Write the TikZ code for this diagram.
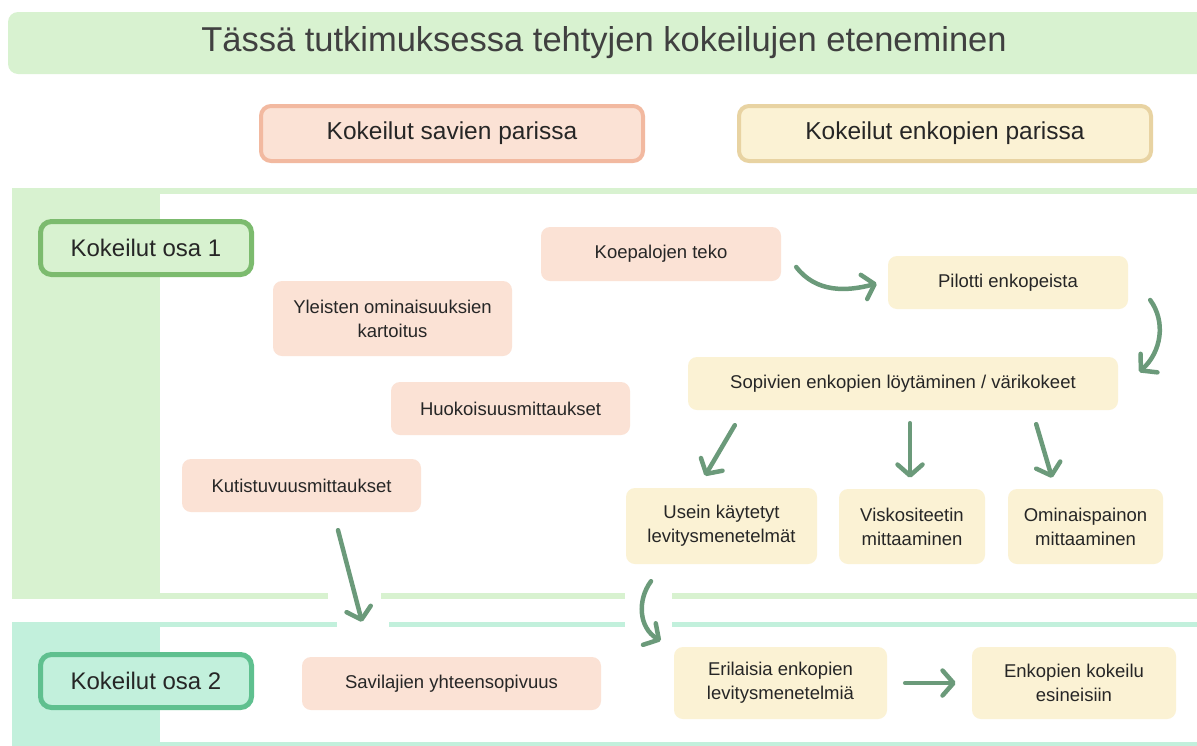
\documentclass[tikz,border=0pt]{standalone}
\usepackage{fontspec}
\setmainfont{Liberation Sans}
\usetikzlibrary{arrows.meta,calc}
\definecolor{pgreen}{HTML}{D8F2D0}
\definecolor{pmint}{HTML}{C2F0DC}
\definecolor{bgreen}{HTML}{7CBB6E}
\definecolor{bmint}{HTML}{5FC08F}
\definecolor{peach}{HTML}{FBE2D5}
\definecolor{peachb}{HTML}{F2B9A0}
\definecolor{cream}{HTML}{FBF2D4}
\definecolor{creamb}{HTML}{E8D3A2}
\definecolor{arrc}{HTML}{6B9A7A}
\definecolor{txt}{HTML}{262626}
\definecolor{ttxt}{HTML}{404040}
\tikzset{
  box/.style={rounded corners=9pt, inner sep=0pt, align=center, text=txt,
    font=\fontsize{18.5}{24}\selectfont},
  clay/.style={box, fill=peach},
  glaze/.style={box, fill=cream},
  header/.style={box, line width=4pt, rounded corners=10pt, minimum height=55pt,
    font=\fontsize{24.5}{28}\selectfont},
  part/.style={box, line width=5pt, rounded corners=11pt, minimum width=211pt,
    minimum height=53pt, font=\fontsize{24}{28}\selectfont},
  arr/.style={draw=arrc, line width=4.5pt, line cap=round,
    -{Straight Barb[length=11pt, width=25pt, line cap=round, line join=round]}},
}
\begin{document}
\begin{tikzpicture}[x=1pt,y=-1pt]
\useasboundingbox (0,0) rectangle (1197,745);
\clip (0,0) rectangle (1197,745);
% title bar
\fill[pgreen, rounded corners=10pt] (8,12) rectangle (1220,74);
\node[text=ttxt, font=\fontsize{34.5}{40}\selectfont] (title) at (604,43) {Tässä tutkimuksessa tehtyjen kokeilujen eteneminen};
% headers
\node[header, draw=peachb, fill=peach, minimum width=382pt] (hclay) at (452,133.5) {Kokeilut savien parissa};
\node[header, draw=creamb, fill=cream, minimum width=412pt] (hglaze) at (945,133.5) {Kokeilut enkopien parissa};
% panels
\fill[pgreen] (12,188) rectangle (1220,599);
\fill[white] (160,194) rectangle (1220,593);
\fill[pmint] (12,622) rectangle (1220,760);
\fill[white] (160,627) rectangle (1220,742);
% gaps in the band lines
\fill[white] (328,589) rectangle (381,603);
\fill[white] (337,618) rectangle (389,631);
\fill[white] (625,589) rectangle (672,631);
% part labels
\node[part, draw=bgreen, fill=pgreen] (osa1) at (146,248) {Kokeilut osa 1};
\node[part, draw=bmint, fill=pmint] (osa2) at (146,681) {Kokeilut osa 2};
% clay nodes
\node[clay, minimum width=240pt, minimum height=54pt] (koe) at (661,254) {Koepalojen teko};
\node[clay, minimum width=239pt, minimum height=75pt] (yleis) at (392.5,318.5) {Yleisten ominaisuuksien\\kartoitus};
\node[clay, minimum width=239pt, minimum height=53pt] (huok) at (510.5,408.5) {Huokoisuusmittaukset};
\node[clay, minimum width=239pt, minimum height=53pt] (kutis) at (301.5,485.5) {Kutistuvuusmittaukset};
\node[clay, minimum width=299pt, minimum height=53pt] (savi) at (451.5,683.5) {Savilajien yhteensopivuus};
% glaze nodes
\node[glaze, minimum width=240pt, minimum height=53pt] (pilotti) at (1008,282.5) {Pilotti enkopeista};
\node[glaze, minimum width=430pt, minimum height=53pt] (sopiv) at (903,383.5) {Sopivien enkopien löytäminen / värikokeet};
\node[glaze, minimum width=191pt, minimum height=76pt] (usein) at (721.5,526) {Usein käytetyt\\levitysmenetelmät};
\node[glaze, minimum width=146pt, minimum height=75pt] (visk) at (912,526.5) {Viskositeetin\\mittaaminen};
\node[glaze, minimum width=155pt, minimum height=75pt] (omin) at (1085.5,526.5) {Ominaispainon\\mittaaminen};
\node[glaze, minimum width=213pt, minimum height=72pt] (eril) at (780.5,683) {Erilaisia enkopien\\levitysmenetelmiä};
\node[glaze, minimum width=204pt, minimum height=72pt] (enkok) at (1074,683) {Enkopien kokeilu\\esineisiin};
% connectors
\draw[arr] ($(koe.east)+(15,13)$) .. controls +(20,26) and +(-30,8) .. ($(pilotti.west)+(-11,1)$);
\draw[arr] ($(pilotti.east)+(22,17.5)$) .. controls +(16,22) and +(22,-20) .. ($(sopiv.east)+(21,-11.5)$);
\draw[arr] ($(sopiv.south west)+(47,15)$) -- ($(usein.north)+(-16.5,-12)$);
\draw[arr] ($(sopiv.south)+(7,13)$) -- ($(visk.north)+(-2,-11)$);
\draw[arr] ($(sopiv.south east)+(-82,14)$) -- ($(omin.north)+(-33.5,-11)$);
\draw[arr] ($(kutis.south)+(36.5,18)$) -- ($(savi.north)+(-89.5,-35)$);
\draw[arr] ($(usein.south)+(-70.5,17)$) .. controls +(-14,19) and +(-22,-13) .. ($(eril.north west)+(-13,-6)$);
\draw[arr] ($(eril.east)+(18,0)$) -- ($(enkok.west)+(-16,0)$);
\end{tikzpicture}
\end{document}
